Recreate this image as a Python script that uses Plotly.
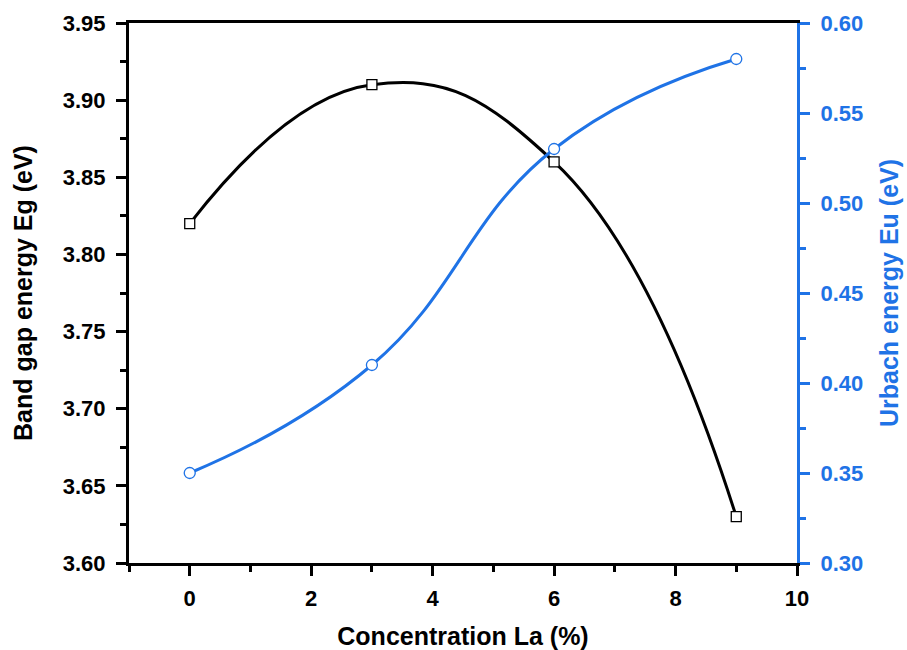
import plotly.graph_objects as go

conc = [0, 3, 6, 9]
band_gap = [3.82, 3.91, 3.86, 3.63]
urbach = [0.35, 0.41, 0.53, 0.58]

x_ticks = [0, 2, 4, 6, 8, 10]
eg_ticks = [3.60, 3.65, 3.70, 3.75, 3.80, 3.85, 3.90, 3.95]
eu_ticks = [0.30, 0.35, 0.40, 0.45, 0.50, 0.55, 0.60]

BLUE = "#1F73E6"
FONT = "Liberation Sans"
TICK_SIZE = 22
TITLE_SIZE = 25

fig = go.Figure()
# lines first
fig.add_trace(go.Scatter(
    x=conc, y=band_gap, mode="lines",
    line=dict(color="black", width=3, shape="spline", smoothing=1.3),
    showlegend=False, hoverinfo="skip",
))
fig.add_trace(go.Scatter(
    x=conc, y=urbach, mode="lines", yaxis="y2",
    line=dict(color=BLUE, width=3, shape="spline", smoothing=1.3),
    showlegend=False, hoverinfo="skip",
))
# markers on top
fig.add_trace(go.Scatter(
    x=conc, y=band_gap, mode="markers",
    marker=dict(symbol="square", size=10, color="white", line=dict(width=1.3, color="black")),
    showlegend=False,
))
fig.add_trace(go.Scatter(
    x=conc, y=urbach, mode="markers", yaxis="y2",
    marker=dict(symbol="circle", size=11, color="white", line=dict(width=1.3, color=BLUE)),
    showlegend=False,
))

def tf(color):
    return dict(family=FONT, size=TICK_SIZE, color=color, weight="bold")

def ttf(color):
    return dict(family=FONT, size=TITLE_SIZE, color=color, weight="bold")

fig.update_layout(
    width=907, height=650,
    margin=dict(l=129, r=110, t=23, b=87),
    plot_bgcolor="white", paper_bgcolor="white",
    font=dict(family=FONT),
    xaxis=dict(
        range=[-1, 10], tickvals=x_ticks, automargin=False,
        showgrid=False, zeroline=False,
        showline=True, linecolor="black", linewidth=3, mirror=True,
        ticks="outside", ticklen=10, tickwidth=3, tickcolor="black",
        minor=dict(ticks="outside", ticklen=6, tickwidth=2.5, tickcolor="black", dtick=1, showgrid=False),
        tickfont=tf("black"), ticklabelstandoff=4,
        title=dict(text="Concentration La (%)", font=ttf("black"), standoff=22),
    ),
    yaxis=dict(
        range=[3.60, 3.95], tickvals=eg_ticks, tickformat=".2f", automargin=False,
        showgrid=False, zeroline=False,
        showline=True, linecolor="black", linewidth=3,
        ticks="outside", ticklen=10, tickwidth=3, tickcolor="black",
        minor=dict(ticks="outside", ticklen=6, tickwidth=2.5, tickcolor="black", dtick=0.025, showgrid=False),
        tickfont=tf("black"), ticklabelstandoff=6,
        title=dict(text="Band gap energy Eg (eV)", font=ttf("black"), standoff=24),
    ),
    yaxis2=dict(
        overlaying="y", side="right",
        range=[0.30, 0.60], tickvals=eu_ticks, tickformat=".2f", automargin=False,
        showgrid=False, zeroline=False,
        showline=True, linecolor=BLUE, linewidth=3,
        ticks="outside", ticklen=10, tickwidth=3, tickcolor=BLUE,
        minor=dict(ticks="outside", ticklen=6, tickwidth=2.5, tickcolor=BLUE, dtick=0.025, showgrid=False),
        tickfont=tf(BLUE), ticklabelstandoff=6,
        title=dict(text="Urbach energy Eu (eV)", font=ttf(BLUE), standoff=19),
    ),
)

fig.write_html("out.html")
